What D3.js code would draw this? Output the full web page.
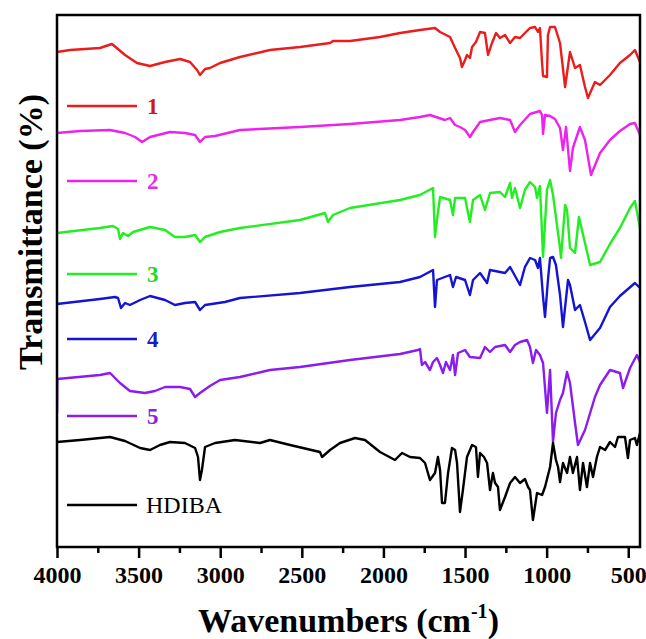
<!DOCTYPE html>
<html>
<head>
<meta charset="utf-8">
<script src="https://cdn.jsdelivr.net/npm/d3@7"></script>
<style>
  body { margin: 0; background: #fff; }
  svg { display: block; }
</style>
</head>
<body>
<svg id="chart" width="646" height="639"></svg>
<script>
// FTIR spectra, wavenumber (cm-1) vs transmittance (stacked, arbitrary units)
let spec1 = [[4000,495],[3920,497],[3737,499],[3663,503],[3583,492],[3510,484],[3430,481],[3338,485],[3246,488],[3185,485],[3142,477],[3124,472],[3093,478],[3063,479],[3001,484],[2879,490],[2695,497],[2511,500],[2327,504],[2309,506],[2205,506],[2021,510],[1898,514],[1776,517],[1684,519],[1653,515],[1592,510],[1561,499],[1531,489],[1519,480],[1500,487],[1488,492],[1470,489],[1457,500],[1433,505],[1408,515],[1378,514],[1359,492],[1335,504],[1310,514],[1286,509],[1255,512],[1224,504],[1194,510],[1163,509],[1133,514],[1102,519],[1071,520],[1053,515],[1041,519],[1028,484],[1022,471],[998,470],[992,512],[979,520],[949,520],[918,504],[887,460],[857,495],[826,479],[796,482],[765,460],[747,449],[704,465],[673,462],[612,472],[551,484],[489,492],[459,497],[428,485]]

let spec2 = [[4000,414],[3859,416],[3675,417],[3583,414],[3522,410],[3479,405],[3430,410],[3308,415],[3216,414],[3154,412],[3124,405],[3093,410],[3032,411],[2879,417],[2511,420],[2205,423],[1898,427],[1776,430],[1715,432],[1623,427],[1592,429],[1561,422],[1531,420],[1500,417],[1470,410],[1451,415],[1408,425],[1347,427],[1286,429],[1224,427],[1194,415],[1163,422],[1102,433],[1041,436],[1028,432],[1022,413],[1010,432],[979,431],[949,428],[918,419],[900,397],[881,420],[857,376],[839,399],[796,420],[765,407],[728,372],[673,394],[612,407],[551,416],[489,423],[459,424],[428,412]]

let spec3 = [[4000,314],[3737,319],[3657,321],[3626,318],[3614,308],[3596,314],[3565,311],[3534,315],[3430,320],[3338,317],[3277,310],[3216,310],[3154,312],[3124,305],[3093,310],[3001,315],[2879,319],[2511,327],[2358,334],[2340,325],[2309,332],[2205,339],[1898,347],[1776,352],[1696,359],[1684,310],[1672,327],[1653,350],[1592,347],[1574,332],[1561,349],[1500,349],[1470,325],[1451,347],[1408,352],[1378,337],[1347,354],[1286,355],[1255,350],[1224,364],[1212,349],[1194,359],[1163,339],[1133,357],[1102,365],[1071,360],[1059,349],[1041,361],[1022,290],[998,357],[979,367],[961,352],[918,299],[912,289],[887,342],[875,337],[857,299],[826,294],[802,330],[765,304],[734,282],[673,285],[612,303],[551,319],[489,339],[459,346],[428,319]]

let spec4 = [[4000,243],[3737,248],[3645,250],[3626,249],[3608,239],[3583,244],[3553,242],[3491,247],[3430,251],[3338,247],[3277,242],[3216,244],[3154,245],[3124,237],[3093,242],[2971,245],[2879,249],[2511,254],[2205,260],[1898,265],[1776,270],[1696,277],[1684,240],[1672,267],[1592,272],[1574,260],[1555,270],[1500,267],[1470,252],[1451,267],[1408,274],[1365,264],[1347,277],[1255,274],[1224,280],[1163,262],[1133,280],[1102,289],[1071,287],[1053,279],[1041,289],[1022,250],[1010,230],[992,267],[979,289],[961,290],[943,282],[918,252],[900,220],[869,267],[857,262],[826,237],[796,242],[765,225],[734,207],[673,219],[612,240],[551,251],[459,264],[428,259]]

let spec5 = [[4000,134],[3998,168],[3737,172],[3675,174],[3614,164],[3553,156],[3461,154],[3400,156],[3338,160],[3246,160],[3185,158],[3154,150],[3124,154],[3063,161],[3001,167],[2879,170],[2695,177],[2511,180],[2205,187],[1898,193],[1788,197],[1776,198],[1764,182],[1745,185],[1715,177],[1696,185],[1672,189],[1653,182],[1635,174],[1617,185],[1592,177],[1574,192],[1561,172],[1543,194],[1500,197],[1470,190],[1408,189],[1378,200],[1347,195],[1316,200],[1255,202],[1224,195],[1194,202],[1163,205],[1120,207],[1102,200],[1084,184],[1065,197],[1041,192],[1022,184],[998,134],[979,177],[961,105],[943,134],[918,147],[900,154],[875,175],[857,164],[826,124],[808,102],[765,117],[704,150],[673,162],[612,177],[551,174],[532,159],[489,179],[447,192],[428,185]]

let specHDIBA = [[4000,105],[3859,107],[3675,110],[3583,106],[3491,99],[3430,97],[3369,102],[3308,105],[3216,104],[3154,99],[3136,90],[3124,67],[3112,77],[3093,100],[3032,104],[2909,107],[2756,104],[2695,107],[2572,102],[2389,95],[2376,90],[2327,97],[2266,104],[2174,109],[2113,107],[2021,95],[1929,87],[1886,94],[1837,90],[1776,89],[1745,84],[1715,67],[1684,74],[1666,90],[1653,77],[1641,44],[1623,44],[1604,74],[1580,99],[1561,97],[1549,84],[1531,35],[1513,57],[1488,90],[1457,102],[1433,100],[1421,70],[1408,94],[1384,90],[1365,84],[1347,57],[1329,74],[1316,64],[1298,60],[1286,37],[1255,50],[1224,64],[1194,70],[1163,64],[1133,68],[1114,60],[1102,57],[1084,27],[1059,54],[1028,52],[1010,60],[979,80],[961,104],[943,87],[930,80],[918,65],[900,84],[875,74],[857,90],[839,74],[814,90],[796,57],[777,84],[753,60],[734,84],[716,70],[692,90],[673,100],[642,97],[612,105],[581,100],[563,110],[520,110],[502,89],[489,107],[459,109],[447,102],[428,114]]

let names = ['1', '2', '3', '4', '5', 'HDIBA']
let colors = ['#ec1c1c', '#ee22ee', '#22ee22', '#1414d2', '#8a1cf0', '#000000']
let labelColors = ['#d01818', '#e22ee2', '#22d822', '#1a1ac8', '#8a22e6', '#000000']
let majorTicks = [4000, 3500, 3000, 2500, 2000, 1500, 1000, 500]
let minorTicks = [3750, 3250, 2750, 2250, 1750, 1250, 750]

let series = [spec1, spec2, spec3, spec4, spec5, specHDIBA]

let svg = d3.select('#chart')
let margin = { left: 57, right: 6, top: 15, bottom: 92 }
let width = 646 - margin.left - margin.right
let height = 639 - margin.top - margin.bottom
let serif = '"Liberation Serif", "Times New Roman", serif'

let x = d3.scaleLinear().domain([4000, 428]).range([0, width])
let y = d3.scaleLinear().domain([0, 532]).range([height, 0])

let g = svg.append('g').attr('transform', 'translate(' + margin.left + ',' + margin.top + ')')

g.append('clipPath').attr('id', 'clip')
    .append('rect').attr('width', width).attr('height', height)

let line = d3.line()
    .x(d => x(d[0]))
    .y(d => y(d[1]))

g.append('g').attr('clip-path', 'url(#clip)')
    .selectAll('path')
    .data(series)
    .enter()
    .append('path')
    .attr('d', line)
    .attr('fill', 'none')
    .attr('stroke', (d, i) => colors[i])
    .attr('stroke-width', 2.4)
    .attr('stroke-linejoin', 'round')

// legend
let legendY = [91, 166, 259, 324, 401, 490]
let legend = g.selectAll('.leg')
    .data(names)
    .enter()
    .append('g')
    .attr('class', 'leg')
    .attr('transform', (d, i) => 'translate(10,' + legendY[i] + ')')

legend.append('line')
    .attr('x1', 0).attr('x2', 70)
    .attr('stroke', (d, i) => colors[i])
    .attr('stroke-width', 2.4)

legend.append('text')
    .attr('x', d => d === 'HDIBA' ? 79 : 80)
    .attr('dy', '0.35em')
    .attr('fill', (d, i) => labelColors[i])
    .style('font-family', serif)
    .style('font-weight', d => d === 'HDIBA' ? 'normal' : 'bold')
    .style('font-size', d => d === 'HDIBA' ? '24px' : '23px')
    .text(d => d)

// frame
g.append('rect')
    .attr('width', width).attr('height', height)
    .attr('fill', 'none').attr('stroke', '#000').attr('stroke-width', 2.5)

// x axis
let xAxis = g.append('g').attr('transform', 'translate(0,' + height + ')')
xAxis.call(d3.axisBottom(x).tickValues(majorTicks).tickSize(11).tickPadding(8).tickFormat(d3.format('d')))
xAxis.attr('font-family', serif).attr('font-size', 24)
xAxis.select('.domain').remove()
xAxis.selectAll('line').attr('stroke-width', 2.5)
xAxis.selectAll('text')
    .attr('font-family', serif)
    .style('font-family', serif)
    .style('font-weight', 'bold')
    .style('font-size', '24px')
    .attr('fill', '#000')

let xMinor = g.append('g').attr('transform', 'translate(0,' + height + ')')
xMinor.call(d3.axisBottom(x).tickValues(minorTicks).tickSize(6).tickFormat(''))
xMinor.select('.domain').remove()
xMinor.selectAll('line').attr('stroke-width', 2.5)

// axis titles
let xTitle = svg.append('text')
    .attr('x', margin.left + width / 2)
    .attr('y', 632)
    .attr('text-anchor', 'middle')
    .style('font-family', serif)
    .style('font-weight', 'bold')
    .style('font-size', '34px')
xTitle.append('tspan').text('Wavenumbers (cm')
xTitle.append('tspan').attr('dy', -14).style('font-size', '20px').text('-1')
xTitle.append('tspan').attr('dy', 14).text(')')

svg.append('text')
    .attr('transform', 'translate(42,' + 232 + ') rotate(-90)')
    .attr('text-anchor', 'middle')
    .style('font-family', serif)
    .style('font-weight', 'bold')
    .style('font-size', '34px')
    .text('Transmittance (%)')
</script>
</body>
</html>
